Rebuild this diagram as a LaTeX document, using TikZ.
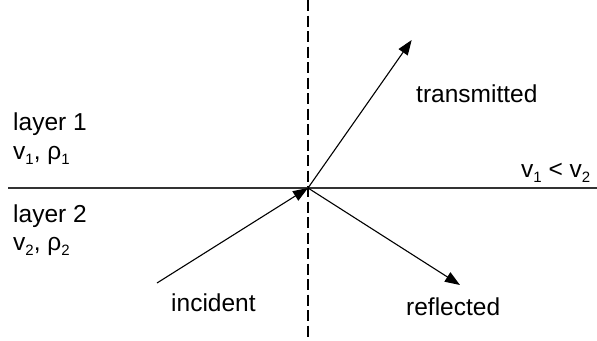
\documentclass[tikz,border=0pt]{standalone}
\usepackage{fontspec}
\setmainfont{Liberation Sans}
\usetikzlibrary{arrows.meta}
\newcommand\subtx[1]{\raisebox{-0.22em}{\fontsize{15}{15}\selectfont #1}}
\begin{document}
\begin{tikzpicture}[x=1pt,y=-1pt,
  lbl/.style={anchor=base west,inner sep=0pt,font=\fontsize{24.5}{29}\selectfont},
  ray/.style={line width=1.1pt,-{Triangle[length=15pt,width=11pt]}},
  guide/.style={line width=1.1pt,dash pattern=on 11pt off 4.5pt},
  iface/.style={line width=1.3pt,black!80}]
\useasboundingbox (0,0) rectangle (597,340);
\coordinate (O) at (308,188);
\coordinate (Ltop) at (308,0);
\coordinate (Lbot) at (308,340);
\coordinate (Hl) at (8,188);
\coordinate (Hr) at (597,188);
\coordinate (T) at (411.7,40);
\coordinate (R) at (460,285);
\coordinate (I) at (157,283);
\draw[guide] (Ltop) -- (Lbot);
\draw[iface] (Hl) -- (Hr);
\draw[ray] (O) -- (T);
\draw[ray] (O) -- (R);
\draw[ray] (I) -- (O);
\node[lbl] (l1) at (13,130) {layer 1};
\node[lbl] (p1) at (13,159) {v\subtx{1}, ρ\subtx{1}};
\node[lbl] (l2) at (13,222) {layer 2};
\node[lbl] (p2) at (13,250) {v\subtx{2}, ρ\subtx{2}};
\node[lbl] (tr) at (416,102.7) {transmitted};
\node[lbl] (in) at (171,311.5) {incident};
\node[lbl] (re) at (406,315) {reflected};
\node[lbl] (vv) at (521,177) {v\subtx{1} < v\subtx{2}};
\end{tikzpicture}
\end{document}
